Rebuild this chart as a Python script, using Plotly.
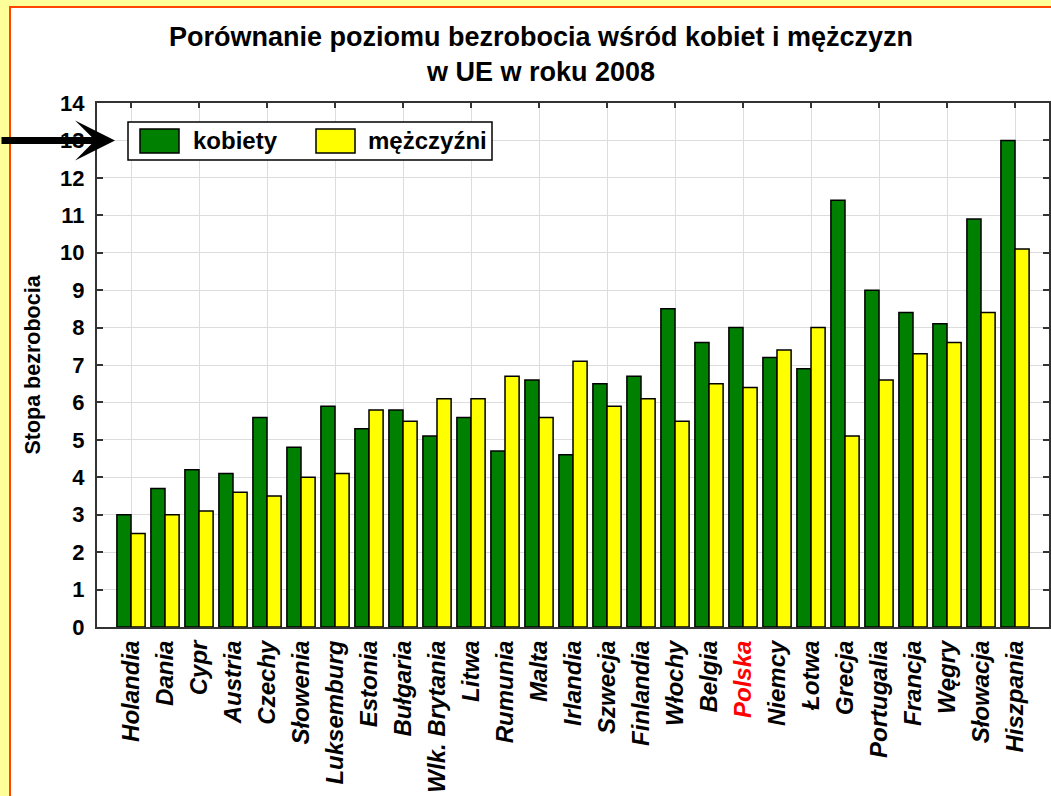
import plotly.graph_objects as go

kraje = ["Holandia", "Dania", "Cypr", "Austria", "Czechy", "Słowenia", "Luksemburg",
         "Estonia", "Bułgaria", "Wlk. Brytania", "Litwa", "Rumunia", "Malta", "Irlandia",
         "Szwecja", "Finlandia", "Włochy", "Belgia", "Polska", "Niemcy", "Łotwa",
         "Grecja", "Portugalia", "Francja", "Węgry", "Słowacja", "Hiszpania"]
kobiety = [3.0, 3.7, 4.2, 4.1, 5.6, 4.8, 5.9, 5.3, 5.8, 5.1, 5.6, 4.7, 6.6, 4.6,
           6.5, 6.7, 8.5, 7.6, 8.0, 7.2, 6.9, 11.4, 9.0, 8.4, 8.1, 10.9, 13.0]
mezczyzni = [2.5, 3.0, 3.1, 3.6, 3.5, 4.0, 4.1, 5.8, 5.5, 6.1, 6.1, 6.7, 5.6, 7.1,
             5.9, 6.1, 5.5, 6.5, 6.4, 7.4, 8.0, 5.1, 6.6, 7.3, 7.6, 8.4, 10.1]

FONT = "Liberation Sans, Arial, sans-serif"
ZIELONY = "#008000"
ZOLTY = "#FFFF00"

# obszar wykresu w pikselach: x 97..1049, y 103..627
L, T, W, H = 97, 103, 952, 524


def px(x):
    return (x - L) / W


def py(y):
    return (T + H - y) / H


idx = list(range(len(kraje)))
etykiety = [f"<span style='color:red'>{k}</span>" if k == "Polska" else k for k in kraje]

fig = go.Figure()
fig.add_trace(go.Bar(name="kobiety", x=idx, y=kobiety, showlegend=False,
                     marker=dict(color=ZIELONY, line=dict(color="black", width=1.5))))
fig.add_trace(go.Bar(name="mężczyźni", x=idx, y=mezczyzni, showlegend=False,
                     marker=dict(color=ZOLTY, line=dict(color="black", width=1.5))))
# pusty slad dla osi z siatka pionowa
fig.add_trace(go.Scatter(x=[], y=[], xaxis="x2", showlegend=False, hoverinfo="skip"))

fig.update_layout(
    width=1051, height=796,
    margin=dict(l=L, r=1051 - L - W, t=T, b=796 - T - H),
    paper_bgcolor="#FFFF99",
    plot_bgcolor="white",
    barmode="group", bargap=0.17, bargroupgap=0,
    font=dict(family=FONT, color="black"),
    showlegend=False,
    title=dict(text="<b>Porównanie poziomu bezrobocia wśród kobiet i mężczyzn<br>w UE w roku 2008</b>",
               x=541 / 1051, xanchor="center", xref="container",
               y=1 - 46 / 796, yanchor="top", yref="container",
               font=dict(size=27, family=FONT)),
    xaxis=dict(range=[-1, 27], tickvals=idx, ticktext=etykiety, tickangle=-90,
               tickfont=dict(size=24, family=FONT, weight="bold", style="italic"),
               showgrid=False, zeroline=False, ticks="",
               showline=True, mirror=True, linecolor="#333", linewidth=2,
               ticklabelstandoff=2, automargin=False),
    xaxis2=dict(range=[-1, 27], overlaying="x", side="top", tick0=0, dtick=2,
                showgrid=True, gridcolor="#DCDCDC", gridwidth=1,
                ticks="inside", ticklen=5, tickcolor="#333", tickwidth=1.5,
                showticklabels=False, zeroline=False, showline=False),
    yaxis=dict(range=[0, 14], dtick=1, showgrid=True, gridcolor="#DCDCDC",
               ticks="inside", ticklen=6, tickcolor="#333", tickwidth=1.5,
               showline=True, mirror="ticks", linecolor="#333", linewidth=2,
               zeroline=False, automargin=False,
               tickfont=dict(size=22, family=FONT, weight="bold"),
               ticklabelstandoff=6,
               title=dict(text="<b>Stopa bezrobocia</b>", standoff=14,
                          font=dict(size=21.5, family=FONT))),
)

# biale tlo z pomaranczowa ramka
fig.add_shape(type="rect", xref="paper", yref="paper",
              x0=px(10), x1=1.05, y0=-0.4, y1=py(7),
              fillcolor="white", line=dict(color="#FF4500", width=2), layer="below")

# legenda
fig.add_shape(type="rect", xref="paper", yref="paper",
              x0=px(128), x1=px(492), y0=py(160), y1=py(122),
              fillcolor="white", line=dict(color="black", width=1.5))
for nazwa, kolor, x0, xt in [("kobiety", ZIELONY, 140, 191), ("mężczyźni", ZOLTY, 316, 366)]:
    fig.add_shape(type="rect", xref="paper", yref="paper",
                  x0=px(x0), x1=px(x0 + 39), y0=py(153), y1=py(129),
                  fillcolor=kolor, line=dict(color="black", width=1.5))
    fig.add_annotation(x=px(xt), y=py(141), xref="paper", yref="paper",
                       text=f"<b>{nazwa}</b>", showarrow=False,
                       xanchor="left", yanchor="middle",
                       font=dict(size=24, family=FONT, color="black"))

# strzalka wskazujaca poziom 13
fig.add_annotation(x=px(115), y=13, xref="paper", yref="y",
                   ax=-125, ay=0, text="", showarrow=True,
                   arrowhead=3, arrowsize=0.95, arrowwidth=7, arrowcolor="black")

fig.write_html("out.html", config={"displayModeBar": False},
               post_script="document.body.style.margin='0px';")
